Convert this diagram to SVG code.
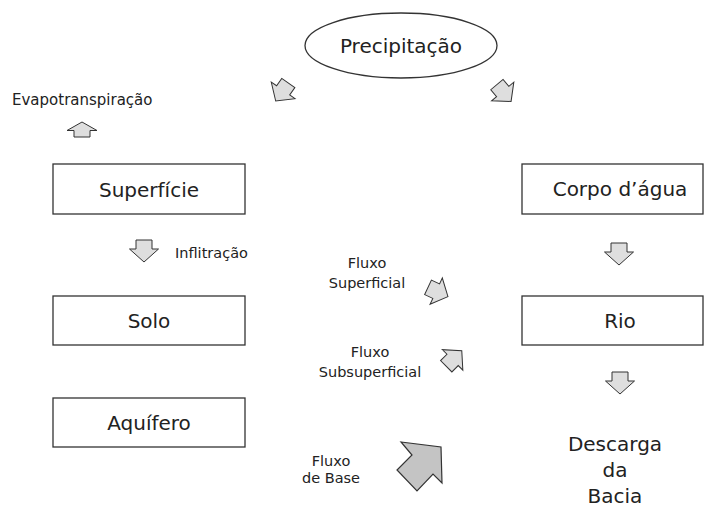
<svg xmlns="http://www.w3.org/2000/svg" xmlns:xlink="http://www.w3.org/1999/xlink" width="704" height="508" viewBox="0 0 704 508">
<style>
.box{fill:#fff;stroke:#333;stroke-width:1.3}
.t{font-family:"DejaVu Sans","Liberation Sans",sans-serif;fill:#222}
.big{font-size:20px;text-anchor:middle}
.sm{font-size:14.5px;text-anchor:middle}
.arr{fill:#dedede;stroke:#333;stroke-width:1}
.arr2{fill:#c4c4c4;stroke:#333;stroke-width:1.2}
</style>
<defs>
<path id="a" d="M0,-11 L14.5,2 L8,2 L8,11 L-8,11 L-8,2 L-14.5,2 Z"/>
</defs>
<rect width="704" height="508" fill="#fff"/>
<g id="precipitacao">
<ellipse cx="401" cy="45.5" rx="96" ry="32.5" fill="#fff" stroke="#333" stroke-width="1.3"/>
<text class="t big" x="401" y="53">Precipitação</text>
</g>
<g id="evapotranspiracao">
<text class="t" x="12" y="105" font-size="15">Evapotranspiração</text>
</g>
<g id="superficie">
<rect class="box" x="53" y="164" width="192" height="50"/>
<text class="t big" x="149" y="197">Superfície</text>
</g>
<g id="solo">
<rect class="box" x="53" y="296" width="192" height="49"/>
<text class="t big" x="149" y="328">Solo</text>
</g>
<g id="aquifero">
<rect class="box" x="53" y="398" width="192" height="49"/>
<text class="t big" x="149" y="430">Aquífero</text>
</g>
<g id="corpo-dagua">
<rect class="box" x="522" y="164" width="181" height="50"/>
<text class="t big" x="620" y="196">Corpo d’água</text>
</g>
<g id="rio">
<rect class="box" x="522" y="296" width="181" height="49"/>
<text class="t big" x="620" y="328">Rio</text>
</g>
<g id="descarga">
<text class="t big" x="615" y="451">Descarga</text>
<text class="t big" x="615" y="477">da</text>
<text class="t big" x="615" y="503">Bacia</text>
</g>
<g id="labels">
<text class="t" x="175" y="258" font-size="14.5">Inflitração</text>
<text class="t sm" x="367" y="268">Fluxo</text>
<text class="t sm" x="367" y="288">Superficial</text>
<text class="t sm" x="370" y="357">Fluxo</text>
<text class="t sm" x="370" y="377">Subsuperficial</text>
<text class="t sm" x="331" y="466">Fluxo</text>
<text class="t sm" x="331" y="483">de Base</text>
</g>
<g id="connectors">
<path class="arr" d="M82,122 L97,130.5 L90,130.5 L90,137 L74,137 L74,130.5 L67,130.5 Z"/>
<use class="arr" xlink:href="#a" transform="translate(282,92) rotate(215)"/>
<use class="arr" xlink:href="#a" transform="translate(504,93) rotate(140)"/>
<use class="arr" xlink:href="#a" transform="translate(144,251) rotate(180)"/>
<use class="arr" xlink:href="#a" transform="translate(619,254) rotate(180)"/>
<use class="arr" xlink:href="#a" transform="translate(620,383) rotate(180)"/>
<use class="arr" xlink:href="#a" transform="translate(438,292) rotate(115)"/>
<use class="arr" xlink:href="#a" transform="translate(454,358.5) rotate(45)"/>
<path class="arr2" d="M401,442 L441,447 L442,483 L433,474 L417,491 L397,470 L412,455 Z"/>
</g>
</svg>
